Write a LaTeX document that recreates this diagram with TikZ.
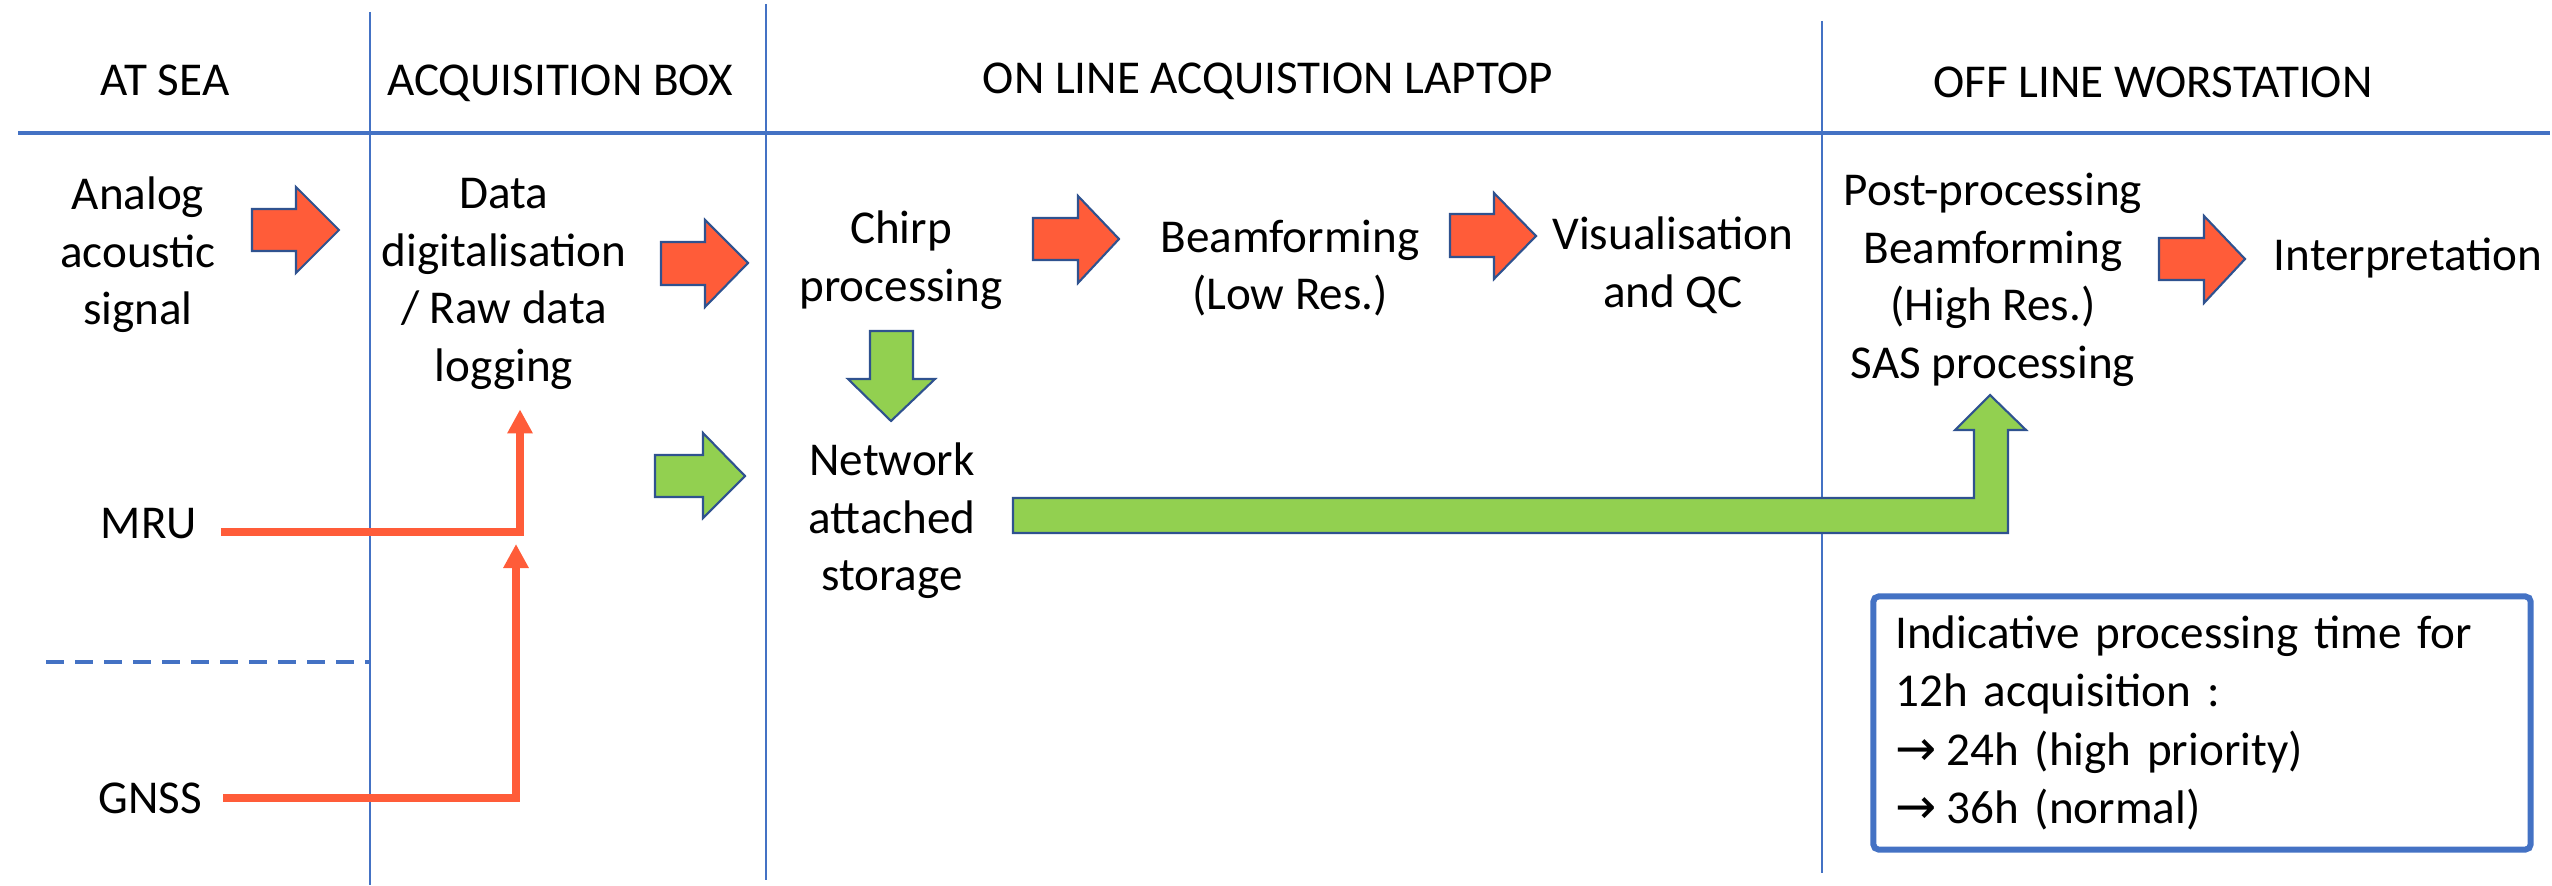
\documentclass[tikz,border=0pt]{standalone}
\usepackage{fontspec}
\setmainfont{Carlito}
\newfontfamily\symfont{DejaVu Sans}
\usetikzlibrary{arrows.meta}
\definecolor{lblue}{HTML}{4472C4}
\definecolor{edgeblue}{HTML}{2F528F}
\definecolor{orng}{HTML}{FF5C39}
\definecolor{grn}{HTML}{92D050}
\begin{document}
\begin{tikzpicture}[x=0.01cm,y=-0.01cm,
  txt/.style={inner sep=0pt, align=center, font=\fontsize{13.4}{16.4}\selectfont},
  hdr/.style={inner sep=0pt, anchor=base, font=\fontsize{13.4}{16.4}\selectfont},
  vsep/.style={draw=lblue, line width=0.8pt},
  hsep/.style={draw=lblue, line width=1.1pt},
  blockor/.style={fill=orng, draw=edgeblue, line width=0.6pt},
  blockgr/.style={fill=grn, draw=edgeblue, line width=0.6pt},
  feed/.style={draw=orng, line width=2.1pt, -{Triangle[width=0.24cm,length=0.24cm]}},
]
\useasboundingbox (0,0) rectangle (2552,885);

% separators
\draw[hsep] (18,133) -- (2550,133);
\draw[vsep] (370,12) -- (370,885);
\draw[vsep] (766,4) -- (766,880);
\draw[vsep] (1822,21) -- (1822,873);
\draw[draw=lblue, line width=1.2pt, dash pattern=on 0.18cm off 0.11cm] (46,662) -- (370,662);

% headers
\node[hdr] (h1) at (165,96) {AT SEA};
\node[hdr] (h2) at (560,96) {ACQUISITION BOX};
\node[hdr] (h3) at (1268,94) {ON LINE ACQUISTION LAPTOP};
\node[hdr] (h4) at (2153,98) {OFF LINE WORSTATION};

% text nodes
\node[txt] (sig) at (138,255) {Analog\\acoustic\\signal};
\node[txt] (dd) at (504,284) {Data\\digitalisation\\/ Raw data\\logging};
\node[txt] (chirp) at (901,260) {Chirp\\processing};
\node[txt] (bfl) at (1290,268) {Beamforming\\(Low Res.)};
\node[txt] (vis) at (1673,265) {Visualisation\\and QC};
\node[txt] (nas) at (892,521) {Network\\attached\\storage};
\node[txt] (post) at (1993,280) {Post-processing\\Beamforming\\(High Res.)\\SAS processing};
\node[hdr] (interp) at (2408,270) {Interpretation};
\node[hdr] (mru) at (149,538) {MRU};
\node[hdr] (gnss) at (150,813) {GNSS};

% note box
\node[draw=lblue, line width=1.7pt, rounded corners=1.5pt, minimum width=6.57cm,
      minimum height=2.53cm, text width=6.13cm, inner xsep=0.22cm, inner ysep=0pt,
      align=left, font=\fontsize{13.4}{16.6}\selectfont] (note) at (2202,723)
  {Indicative processing time for\\12h acquisition :\\{\symfont\fontsize{14}{16.6}\selectfont →}\hspace{0.1cm}24h (high priority)\\{\symfont\fontsize{14}{16.6}\selectfont →}\hspace{0.1cm}36h (normal)};

% orange block arrows
\draw[blockor] (252,209) -- (296,209) -- (296,187) -- (339,230) -- (296,273) -- (296,251) -- (252,251) -- cycle;
\draw[blockor] (661,242) -- (705,242) -- (705,220) -- (748,263) -- (705,307) -- (705,285) -- (661,285) -- cycle;
\draw[blockor] (1033,218) -- (1078,218) -- (1078,196) -- (1119,239) -- (1078,283) -- (1078,260) -- (1033,260) -- cycle;
\draw[blockor] (1450,214) -- (1494,214) -- (1494,193) -- (1536,236) -- (1494,279) -- (1494,257) -- (1450,257) -- cycle;
\draw[blockor] (2159,238) -- (2204,238) -- (2204,216) -- (2245,259) -- (2204,303) -- (2204,280) -- (2159,280) -- cycle;

% green block arrows
\draw[blockgr] (655,455) -- (703,455) -- (703,433) -- (745,476) -- (703,518) -- (703,497) -- (655,497) -- cycle;
\draw[blockgr] (870,331) -- (913,331) -- (913,379) -- (935,379) -- (891,421) -- (848,379) -- (870,379) -- cycle;
\draw[blockgr] (1013,498) -- (1974,498) -- (1974,430) -- (1955,430) -- (1990,395) -- (2026,430) -- (2008,430) -- (2008,533) -- (1013,533) -- cycle;

% orange feed lines
\coordinate (gtip) at (516,544);
\draw[feed] ([xshift=0.23cm,yshift=-0.09cm]mru.east) -| ([xshift=0.16cm,yshift=-0.19cm]dd.south);
\draw[feed] ([xshift=0.21cm]gnss.east) -| (gtip);
\end{tikzpicture}
\end{document}
